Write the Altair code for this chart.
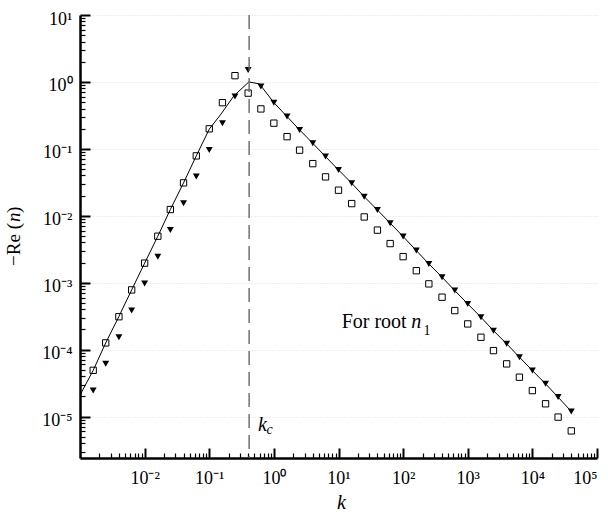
import altair as alt
import pandas as pd

# ---------------- data ----------------
k_left = [0.0016, 0.0025, 0.004, 0.0063, 0.01, 0.016, 0.025, 0.04, 0.063, 0.1, 0.16, 0.25, 0.4]
k_right = [0.63, 1, 1.6, 2.5, 4, 6.3, 10, 16, 25, 40, 63, 100, 160, 250, 400, 630,
           1000, 1600, 2500, 4000, 6300, 10000, 16000, 25000, 40000]

sq_left = [4.9e-5, 1.26e-4, 3.1e-4, 7.8e-4, 1.96e-3, 4.95e-3, 0.0124, 0.031, 0.0785,
           0.199, 0.49, 1.24, 0.68]
sq_right = [0.395, 0.242, 0.152, 0.0955, 0.0601, 0.0381, 0.0241, 0.0152, 0.0096, 0.0061,
            0.00384, 0.00245, 0.00151, 9.6e-4, 6.07e-4, 3.83e-4, 2.42e-4, 1.53e-4, 9.66e-5,
            6.12e-5, 3.87e-5, 2.44e-5, 1.55e-5, 9.8e-6, 6.1e-6]

tri_left = [2.44e-5, 6.12e-5, 1.53e-4, 3.83e-4, 9.7e-4, 2.45e-3, 6.15e-3, 0.0154, 0.0385,
            0.0964, 0.242, 0.603, 1.51]
tri_right = [0.851, 0.49, 0.303, 0.192, 0.121, 0.0766, 0.0484, 0.0307, 0.0193, 0.0122,
             0.00776, 0.0049, 0.00302, 0.00191, 0.00121, 7.62e-4, 4.82e-4, 3.05e-4, 1.92e-4,
             1.22e-4, 7.71e-5, 4.86e-5, 3.08e-5, 1.95e-5, 1.19e-5]

line_k = [0.001, 0.0016, 0.0025, 0.004, 0.0063, 0.01, 0.016, 0.025, 0.04, 0.063, 0.1,
          0.149, 0.24, 0.41, 0.6, 1.0, 1.6, 2.5, 4, 6.3, 10, 16, 25, 40, 63, 100, 160, 250,
          400, 630, 1000, 1600, 2500, 4000, 6300, 10000, 16000, 25000, 40000]
line_y = [2.09e-5, 4.9e-5, 1.26e-4, 3.13e-4, 7.8e-4, 1.96e-3, 4.95e-3, 0.0124, 0.031,
          0.0785, 0.197, 0.322, 0.617, 1.0, 0.933, 0.49, 0.303, 0.192, 0.121, 0.0766,
          0.0484, 0.0307, 0.0193, 0.0122, 0.00776, 0.0049, 0.00302, 0.00191, 0.00121,
          7.62e-4, 4.82e-4, 3.05e-4, 1.92e-4, 1.22e-4, 7.71e-5, 4.86e-5, 3.08e-5, 1.95e-5,
          1.19e-5]

k_c = 0.414

x_major_exp = [-2, -1, 0, 1, 2, 3, 4, 5]
y_major_exp = [-5, -4, -3, -2, -1, 0, 1]

# ---------------- tables ----------------
squares = pd.DataFrame({"k": k_left + k_right, "v": sq_left + sq_right})
triangles = pd.DataFrame({"k": k_left + k_right, "v": tri_left + tri_right})
curve = pd.DataFrame({"k": line_k, "v": line_y})
kc_df = pd.DataFrame({"k": [k_c]})

upright_text = pd.DataFrame({
    "k": [11.2, 206], "v": [2.09e-4, 1.66e-4], "t": ["For root", "1"], "s": [20, 14]})
italic_text = pd.DataFrame({
    "k": [134, 0.567, 0.766], "v": [2.09e-4, 6.0e-6, 5.4e-6], "t": ["n", "k", "c"],
    "s": [20, 20, 14]})

SUP = str.maketrans("-0123456789", "⁻⁰¹²³⁴⁵⁶⁷⁸⁹")


def label_expr(exps):
    s = f"'10{str(exps[-1]).translate(SUP)}'"
    for e in reversed(exps[:-1]):
        s = f"datum.value < {10 ** (e + 0.5):.4g} ? '10{str(e).translate(SUP)}' : " + s
    return s


x_major = [10.0 ** e for e in x_major_exp]
y_major = [10.0 ** e for e in y_major_exp]
x_minor = [m * 10.0 ** e for e in range(-3, 5) for m in range(2, 10)]
y_minor = [m * 10.0 ** e for e in range(-6, 1) for m in range(2, 10) if m * 10.0 ** e > 2.4e-6]

W, H = 517, 443
FONT = "Liberation Serif"

xs = alt.Scale(type="log", domain=[0.001, 1e5], nice=False)
ys = alt.Scale(type="log", domain=[2.4e-6, 10], nice=False)

# labels + domain lines + grid
line = alt.Chart(curve).mark_line(color="black", strokeWidth=1).encode(
    x=alt.X("k:Q", scale=xs, axis=alt.Axis(
        orient="bottom", values=x_major, labelExpr=label_expr(x_major_exp), ticks=False,
        grid=False, domain=True, domainColor="black", domainWidth=2.5,
        labelBaseline="alphabetic", labelPadding=25, labelFontSize=18, labelFont=FONT,
        labelColor="black", title="k", titleFont=FONT, titleFontSize=20,
        titleFontStyle="italic", titleFontWeight="normal", titleColor="black",
        titleBaseline="alphabetic", titleAlign="center", titleX=261, titleY=50)),
    y=alt.Y("v:Q", scale=ys, axis=alt.Axis(
        orient="left", values=y_major, labelExpr=label_expr(y_major_exp), ticks=False,
        grid=True, gridColor="#dedede", gridDash=[1, 2], gridWidth=1,
        domain=True, domainColor="black", domainWidth=2.5,
        labelBaseline="alphabetic", labelOffset=9, labelPadding=8, labelFontSize=18,
        labelFont=FONT, labelColor="black", title=None)),
)

# major ticks pointing into the plot
sq = alt.Chart(squares).mark_point(shape="square", size=40, filled=False, color="black",
                                   strokeWidth=1, opacity=1).encode(
    x=alt.X("k:Q", scale=xs, axis=alt.Axis(
        orient="top", offset=-H, values=x_major, labels=False, ticks=True, tickSize=10,
        tickWidth=2, tickColor="black", domain=False, grid=False, title=None)),
    y=alt.Y("v:Q", scale=ys, axis=alt.Axis(
        orient="right", offset=-W, values=y_major, labels=False, ticks=True, tickSize=10,
        tickWidth=2, tickColor="black", domain=False, grid=False, title=None)),
)

# minor ticks pointing into the plot
tri = alt.Chart(triangles).mark_point(shape="triangle-down", size=48, filled=True,
                                      color="black", opacity=1).encode(
    x=alt.X("k:Q", scale=xs, axis=alt.Axis(
        orient="top", offset=-H, values=x_minor, labels=False, ticks=True, tickSize=5,
        tickWidth=1.2, tickColor="black", domain=False, grid=False, title=None)),
    y=alt.Y("v:Q", scale=ys, axis=alt.Axis(
        orient="right", offset=-W, values=y_minor, labels=False, ticks=True, tickSize=5,
        tickWidth=1.2, tickColor="black", domain=False, grid=False, title=None)),
)

rule = alt.Chart(kc_df).mark_rule(color="#666666", strokeWidth=1.4, strokeDash=[14, 7]).encode(
    x=alt.X("k:Q", scale=xs, axis=None))

up = alt.Chart(upright_text).mark_text(font=FONT, align="left", baseline="alphabetic",
                                       color="black").encode(
    x=alt.X("k:Q", scale=xs, axis=None), y=alt.Y("v:Q", scale=ys, axis=None),
    text="t:N", size=alt.Size("s:Q", scale=None, legend=None))

it = alt.Chart(italic_text).mark_text(font=FONT, fontStyle="italic", align="left",
                                      baseline="alphabetic", color="black").encode(
    x=alt.X("k:Q", scale=xs, axis=None), y=alt.Y("v:Q", scale=ys, axis=None),
    text="t:N", size=alt.Size("s:Q", scale=None, legend=None))

one = pd.DataFrame({"a": [0]})
yt1 = alt.Chart(one).mark_text(text="−Re (", font=FONT, fontSize=19, angle=270, align="right",
                               baseline="alphabetic", color="black").encode(
    x=alt.value(-60), y=alt.value(208))
yt2 = alt.Chart(one).mark_text(text="n", font=FONT, fontSize=19, fontStyle="italic", angle=270,
                               align="left", baseline="alphabetic", color="black").encode(
    x=alt.value(-60), y=alt.value(207))
yt3 = alt.Chart(one).mark_text(text=")", font=FONT, fontSize=19, angle=270, align="left",
                               baseline="alphabetic", color="black").encode(
    x=alt.value(-60), y=alt.value(198))

chart = alt.layer(line, sq, tri, rule, up, it, yt1, yt2, yt3).resolve_scale(
    x="shared", y="shared").resolve_axis(x="independent", y="independent").properties(
    width=W, height=H, autosize=alt.AutoSizeParams(type="none"),
    padding={"left": 80, "top": 15, "right": 11, "bottom": 55},
    background="white").configure_view(strokeWidth=0)

chart.save("out.html", embed_options={"renderer": "svg", "actions": False})
